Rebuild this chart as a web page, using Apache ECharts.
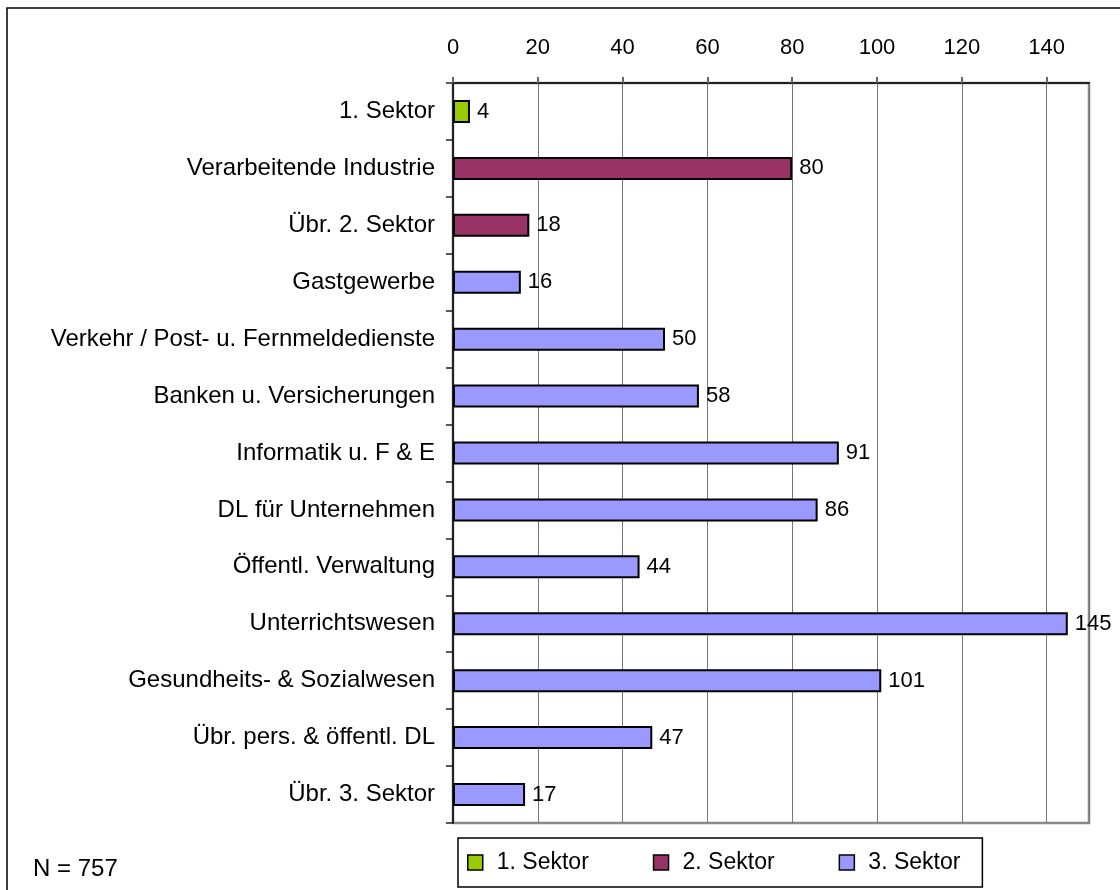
<!DOCTYPE html>
<html>
<head>
<meta charset="utf-8">
<script src="https://cdn.jsdelivr.net/npm/echarts@6/dist/echarts.min.js"></script>
<style>
  html, body { margin: 0; padding: 0; background: #fff; }
  #chart { width: 1120px; height: 890px; }
</style>
</head>
<body>
<div id="chart"></div>
<script>
const categories = [
  '1. Sektor', 'Verarbeitende Industrie', 'Übr. 2. Sektor', 'Gastgewerbe',
  'Verkehr / Post- u. Fernmeldedienste', 'Banken u. Versicherungen', 'Informatik u. F & E',
  'DL für Unternehmen', 'Öffentl. Verwaltung', 'Unterrichtswesen',
  'Gesundheits- & Sozialwesen', 'Übr. pers. & öffentl. DL', 'Übr. 3. Sektor'
]
const sektor1 = [4, '-', '-', '-', '-', '-', '-', '-', '-', '-', '-', '-', '-']
const sektor2 = ['-', 80, 18, '-', '-', '-', '-', '-', '-', '-', '-', '-', '-']
const sektor3 = ['-', '-', '-', 16, 50, 58, 91, 86, 44, 145, 101, 47, 17]
const seriesNames = ['1. Sektor', '2. Sektor', '3. Sektor']

const font = 'Liberation Sans, Arial, sans-serif'
const colors = ['#99cc00', '#993366', '#9999ff']

const chart = echarts.init(document.getElementById('chart'))

function barSeries(name, data, color) {
  return {
    name,
    type: 'bar',
    stack: 'all',
    data,
    barWidth: 23,
    itemStyle: { color, borderColor: '#000', borderWidth: 2 },
    label: {
      show: true, position: 'right', distance: 7,
      color: '#000', fontFamily: font, fontSize: 22
    }
  }
}

chart.setOption({
  animation: false,
  color: colors,
  grid: {
    left: 453, top: 83, right: 31, bottom: 67,
    show: true, borderColor: '#888', borderWidth: 2.5
  },
  legend: {
    data: seriesNames,
    left: 458, top: 838,
    orient: 'horizontal',
    itemWidth: 15, itemHeight: 15, itemGap: 64,
    padding: [13, 22, 13, 9],
    borderColor: '#000', borderWidth: 1.5,
    icon: 'rect',
    itemStyle: { borderColor: '#000', borderWidth: 1.5 },
    textStyle: { color: '#000', fontFamily: font, fontSize: 23, padding: [2, 0, 0, 9] }
  },
  xAxis: {
    type: 'value',
    position: 'top',
    min: 0, max: 150, interval: 20,
    axisLine: { show: true, lineStyle: { color: '#222', width: 2 } },
    axisTick: { show: true, length: 6, lineStyle: { color: '#666', width: 2 } },
    axisLabel: { color: '#000', fontFamily: font, fontSize: 22, margin: 24, showMaxLabel: false },
    splitLine: { show: true, lineStyle: { color: '#777', width: 1 } }
  },
  yAxis: {
    type: 'category',
    data: categories,
    inverse: true,
    axisLine: { show: true, lineStyle: { color: '#222', width: 2 } },
    axisTick: { show: true, length: 7, lineStyle: { color: '#222', width: 1.5 } },
    axisLabel: { color: '#000', fontFamily: font, fontSize: 24, margin: 18 }
  },
  series: [
    barSeries(seriesNames[0], sektor1, colors[0]),
    barSeries(seriesNames[1], sektor2, colors[1]),
    barSeries(seriesNames[2], sektor3, colors[2])
  ],
  graphic: [
    {
      type: 'rect',
      shape: { x: 7, y: 8, width: 1130, height: 900 },
      style: { fill: 'none', stroke: '#000', lineWidth: 1.5 },
      silent: true
    },
    {
      type: 'text',
      left: 33, top: 857,
      style: { text: 'N = 757', fill: '#000', font: '24px ' + font }
    }
  ]
})
</script>
</body>
</html>
